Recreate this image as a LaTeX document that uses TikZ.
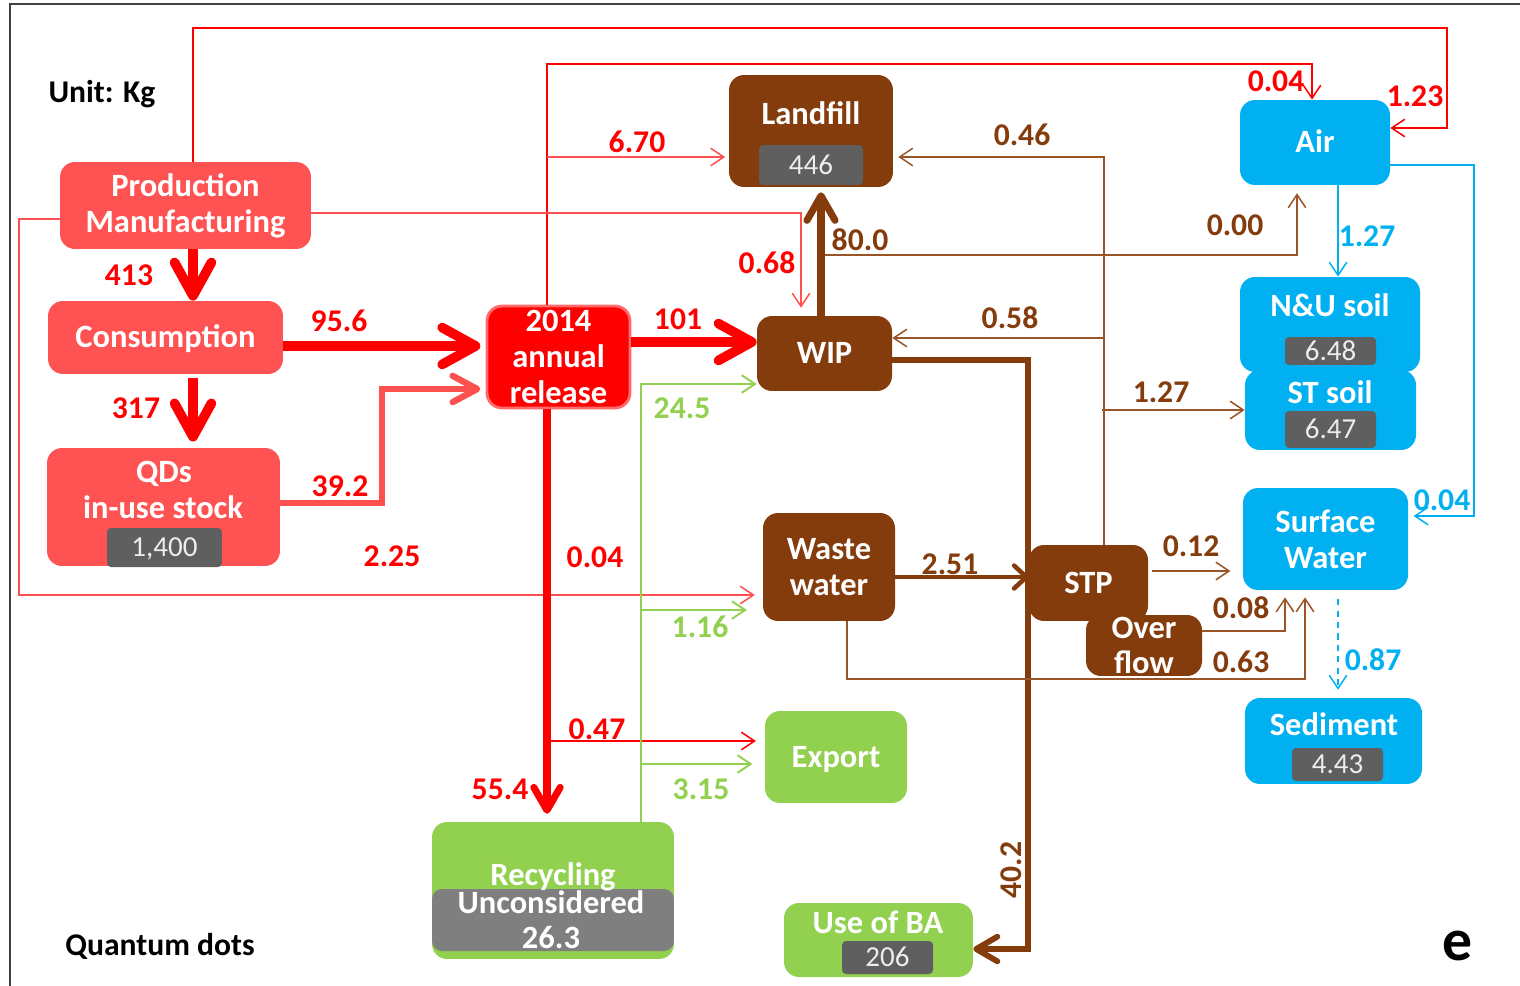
\documentclass[tikz,border=0pt]{standalone}
\usepackage{fontspec}
\setmainfont{Carlito}
\usetikzlibrary{arrows.meta}

\definecolor{boxred}{HTML}{FF5353}
\definecolor{relred}{HTML}{FF0000}
\definecolor{relrim}{HTML}{FF6B6B}
\definecolor{lightred}{HTML}{FF5050}
\definecolor{brn}{HTML}{843C0C}
\definecolor{brnline}{HTML}{9A5526}
\definecolor{sky}{HTML}{00B0F0}
\definecolor{leaf}{HTML}{92D050}
\definecolor{valbg}{HTML}{5F5F5F}
\definecolor{valtx}{HTML}{EDEDED}
\definecolor{bandgray}{HTML}{7F7F7F}
\definecolor{edgegray}{HTML}{404040}

\tikzset{
  box/.style={rounded corners=0.3cm, inner sep=0pt, align=center, text=white,
    font=\bfseries\fontsize{18.5}{20.4}\selectfont},
  one/.style={text height=11.9pt, text depth=0pt},
  redbox/.style={box, fill=boxred},
  brownbox/.style={box, fill=brn},
  skybox/.style={box, fill=sky},
  leafbox/.style={box, fill=leaf},
  valbox/.style={fill=valbg, rounded corners=0.08cm, inner sep=0pt, text=valtx,
    text height=10.4pt, text depth=0pt, font=\fontsize{16.5}{18}\selectfont},
  title/.style={text=white, inner sep=0pt, text height=11.9pt, text depth=0pt,
    font=\bfseries\fontsize{18.5}{20.4}\selectfont},
  lab/.style={inner sep=0pt, text height=11.4pt, text depth=0pt,
    font=\bfseries\fontsize{18}{20}\selectfont},
  note/.style={inner sep=0pt, text height=11.6pt, text depth=0pt,
    font=\bfseries\fontsize{18}{20}\selectfont},
  flow/.style={line width=0.85pt, -{Straight Barb[length=7.5pt,width=10pt]}},
  bigflow/.style={line width=5.5pt, -{Straight Barb[length=19pt,width=21pt,round]}},
}

\begin{document}
\begin{tikzpicture}[x=0.02cm, y=-0.02cm]
\useasboundingbox (0,0) rectangle (1520,986);
\fill[white] (0,0) rectangle (1520,986);
\draw[edgegray, line width=1.3pt] (1520,4) -- (10,4) -- (10,986);

% ---------- boxes ----------
\node[redbox, minimum width=5.02cm, minimum height=1.74cm] (prod) at (185.5,205.5) {Production\\Manufacturing};
\node[redbox, one, minimum width=4.70cm, minimum height=1.46cm] (cons) at (165.5,337.5) {Consumption};
\node[redbox, minimum width=4.66cm, minimum height=2.36cm] (stock) at (163.5,507) {};
\node[title] (stockt1) at (164,472) {QDs};
\node[title] (stockt2) at (163,508) {in-use stock};
\node[valbox, minimum width=2.30cm, minimum height=0.78cm] (stockv) at (164.5,547.5) {1,400};

\node[box, fill=relred, draw=relrim, line width=1.6pt, minimum width=2.86cm, minimum height=2.04cm] (rel) at (558.5,357) {2014\\annual\\release};

\node[brownbox, minimum width=3.28cm, minimum height=2.24cm] (land) at (811,131) {};
\node[title] (landt) at (811,114) {Landfill};
\node[valbox, minimum width=2.08cm, minimum height=0.80cm] (landv) at (811,165) {446};
\node[brownbox, one, minimum width=2.70cm, minimum height=1.50cm] (wip) at (824.5,353.5) {WIP};
\node[brownbox, minimum width=2.64cm, minimum height=2.16cm] (ww) at (829,567) {Waste\\water};
\node[brownbox, one, minimum width=2.38cm, minimum height=1.52cm] (stp) at (1088.5,583) {STP};
\node[brownbox, minimum width=2.32cm, minimum height=1.22cm] (over) at (1144,645.5) {Over\\flow};

\node[skybox, one, minimum width=3.00cm, minimum height=1.70cm] (air) at (1315,142.5) {Air};
\node[skybox, minimum width=3.60cm, minimum height=1.90cm] (nu) at (1330,324.5) {};
\node[title] (nut) at (1330,306) {N\&U soil};
\node[valbox, minimum width=1.82cm, minimum height=0.56cm] (nuv) at (1330.5,351) {6.48};
\node[skybox, minimum width=3.42cm, minimum height=1.60cm] (st) at (1330.5,410) {};
\node[title] (stt) at (1330,393) {ST soil};
\node[valbox, minimum width=1.82cm, minimum height=0.74cm] (stv) at (1330.5,429.5) {6.47};
\node[skybox, minimum width=3.30cm, minimum height=2.04cm] (sw) at (1325.5,539) {Surface\\Water};
\node[skybox, minimum width=3.54cm, minimum height=1.72cm] (sed) at (1333.5,741) {};
\node[title] (sedt) at (1334,725) {Sediment};
\node[valbox, minimum width=1.82cm, minimum height=0.66cm] (sedv) at (1337.5,764.5) {4.43};

\node[leafbox, one, minimum width=2.84cm, minimum height=1.84cm] (exp) at (836,757) {Export};
\node[leafbox, minimum width=4.84cm, minimum height=2.74cm] (rec) at (553,890.5) {};
\node[fill=bandgray, rounded corners=0.2cm, inner sep=0pt, minimum width=4.84cm, minimum height=1.24cm] (band) at (553,920) {};
\node[title] (rect1) at (553,875) {Recycling};
\node[title] (rect2) at (551,903) {Unconsidered};
\node[title] (rect3) at (551,938) {26.3};
\node[leafbox, minimum width=3.78cm, minimum height=1.48cm] (ba) at (878.5,940) {};
\node[title] (bat) at (878,923) {Use of BA};
\node[valbox, minimum width=1.82cm, minimum height=0.66cm] (bav) at (887.5,957.5) {206};

% ---------- junction points ----------
\coordinate (j670) at (547,157);
\coordinate (j047) at (547,741);
\coordinate (j116) at (641,610);
\coordinate (j315) at (641,764);
\coordinate (j000) at (825,255);
\coordinate (j058) at (1104,338);
\coordinate (j127) at (1102,410);

% ---------- red flows ----------
\draw[flow, red] (prod.north -| 193,0) |- (1447,28) |- (air.east |- 0,128);
\draw[flow, red] (rel.north -| 547,0) -- (547,64) -| (air.north -| 1312,0);
\draw[flow, lightred, shorten >=2pt] (j670) -- (land.west |- 0,157);
\draw[flow, lightred, shorten >=4.5pt] (prod.east |- 0,213) -| (wip.north -| 801,0);
\draw[flow, lightred, shorten >=4.5pt] (prod.west |- 0,219) -| (19,595) -- (ww.west |- 0,595);
\draw[flow, red, shorten >=5pt] (j047) -- (exp.west |- 0,741);

\draw[bigflow, red] (prod.south -| 193,0) -- (cons.north -| 193,0);
\draw[bigflow, red, shorten >=3pt] (cons.east |- 0,346) -- (rel.west |- 0,346);
\draw[bigflow, red, shorten >=3.5pt, shorten <=2pt] (cons.south -| 193,0) -- (stock.north -| 193,0);
\draw[lightred, line width=3.6pt, -{Straight Barb[length=14pt,width=15pt,round]}, shorten >=3pt]
  (stock.east |- 0,503) -| (382,389) -- (rel.west |- 0,389);
\draw[bigflow, red] (rel.east |- 0,342) -- (wip.west |- 0,342);
\draw[red, line width=4pt, -{Straight Barb[length=13pt,width=15pt,round]}, shorten >=4.5pt]
  (rel.south -| 547,0) -- (rec.north -| 547,0);

% ---------- green flows ----------
\draw[flow, leaf, line width=1.1pt] (rec.north -| 641,0) |- (wip.west |- 0,384);
\draw[flow, leaf, line width=1.1pt, shorten >=9pt] (j116) -- (ww.west |- 0,610);
\draw[flow, leaf, line width=1.1pt, shorten >=7pt] (j315) -- (exp.west |- 0,764);

% ---------- brown flows ----------
\draw[brn, line width=4pt, -{Straight Barb[length=14pt,width=16pt,round]}, shorten >=2.8pt]
  (wip.north -| 821,0) -- (land.south -| 821,0);
\draw[flow, brnline, shorten >=4.5pt] (j000) -| (air.south -| 1297,0);
\draw[flow, brnline, shorten >=2.8pt] (stp.north -| 1104,0) |- (land.east |- 0,157);
\draw[flow, brnline] (j058) -- (wip.east |- 0,338);
\draw[flow, brnline] (j127) -- (st.west |- 0,410);
\draw[brn, line width=3.3pt, -{Straight Barb[length=12pt,width=14pt,round]}]
  (wip.east |- 0,360) -| (1028,949) -- (ba.east |- 0,949);
\draw[brn, line width=2.6pt, -{Straight Barb[length=7pt,width=13pt,round]}]
  (ww.east |- 0,577) -- (stp.west |- 0,577);
\draw[flow, brnline, shorten <=2pt, shorten >=7pt] (stp.east |- 0,571) -- (sw.west |- 0,571);
\draw[flow, brnline, shorten >=4pt] (over.east |- 0,631) -| (sw.south -| 1285,0);
\draw[flow, brnline, shorten >=4pt] (ww.south -| 847,0) |- (1305,679) -- (sw.south -| 1305,0);

% ---------- blue flows ----------
\draw[flow, sky] (air.south -| 1338,0) -- (nu.north -| 1338,0);
\draw[flow, sky, shorten >=3pt] (air.east |- 0,165) -| (1474,516) -- (sw.east |- 0,516);
\draw[flow, sky, dash pattern=on 3.5pt off 3pt, shorten <=5pt, shorten >=4.5pt]
  (sw.south -| 1338,0) -- (sed.north -| 1338,0);

% ---------- flow values ----------
\node[lab, red] (l413) at (129,275) {413};
\node[lab, red] (l956) at (339,321) {95.6};
\node[lab, red] (l317) at (136,408) {317};
\node[lab, red] (l392) at (340,486) {39.2};
\node[lab, red] (l225) at (392,556) {2.25};
\node[lab, red] (l670) at (637,142) {6.70};
\node[lab, red] (l068) at (767,263) {0.68};
\node[lab, red] (l004a) at (1276,81) {0.04};
\node[lab, red] (l123) at (1415,96) {1.23};
\node[lab, red] (l101) at (678,319) {101};
\node[lab, red] (l004w) at (595,557) {0.04};
\node[lab, red] (l047) at (597,729) {0.47};
\node[lab, red] (l554) at (500,789) {55.4};

\node[lab, brn] (l800) at (860,240) {80.0};
\node[lab, brn] (l046) at (1022,135) {0.46};
\node[lab, brn] (l000) at (1235,225) {0.00};
\node[lab, brn] (l058) at (1010,318) {0.58};
\node[lab, brn] (l127b) at (1161,392) {1.27};
\node[lab, brn] (l251) at (950,564) {2.51};
\node[lab, brn] (l012) at (1191,546) {0.12};
\node[lab, brn] (l008) at (1241,608) {0.08};
\node[lab, brn] (l063) at (1241,662) {0.63};
\node[lab, brn, rotate=90] (l402) at (1011,870) {40.2};

\node[lab, sky] (l127s) at (1367,236) {1.27};
\node[lab, sky] (l004s) at (1442,500) {0.04};
\node[lab, sky] (l087) at (1373,660) {0.87};

\node[lab, leaf] (l245) at (682,408) {24.5};
\node[lab, leaf] (l116) at (700,627) {1.16};
\node[lab, leaf] (l315) at (701,789) {3.15};

% ---------- captions ----------
\node[note] (unit) at (102,92) {Unit: Kg};
\node[note] (qd) at (160,945) {Quantum dots};
\node[inner sep=0pt, text height=15.8pt, text depth=0pt, font=\bfseries\fontsize{34}{36}\selectfont] (panel) at (1458,947) {e};
\end{tikzpicture}
\end{document}
